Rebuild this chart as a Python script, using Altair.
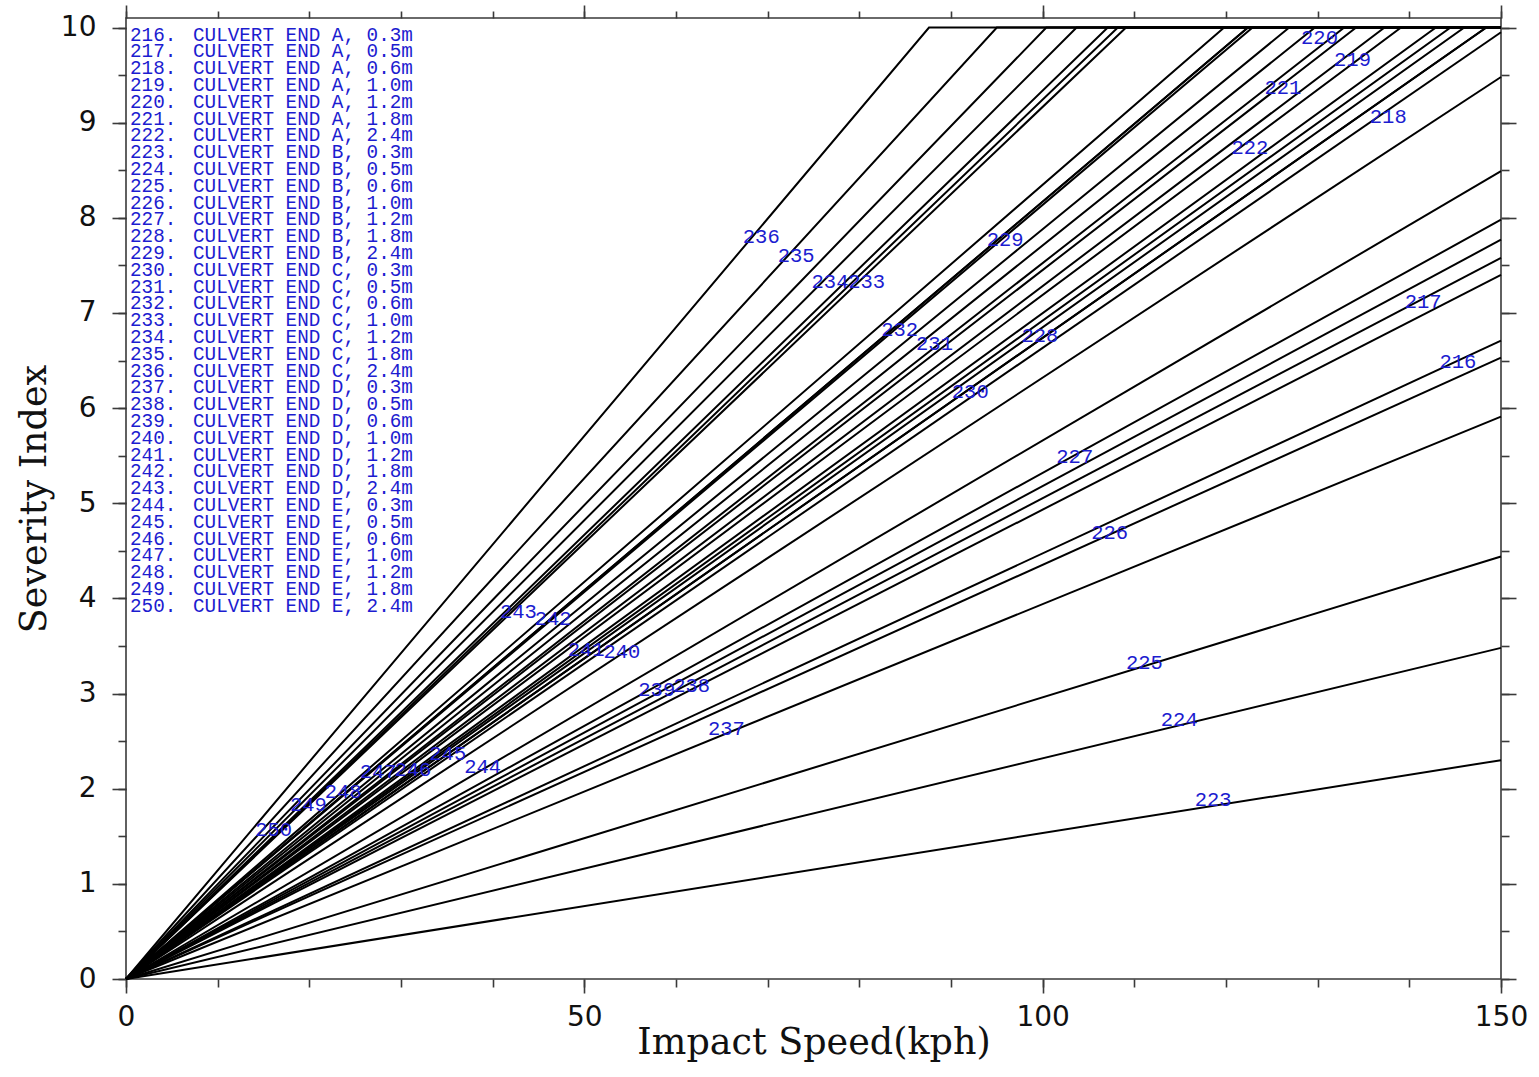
import altair as alt
import pandas as pd

# ---------------- data ----------------
SERIES_IDS = [216, 217, 218, 219, 220, 221, 222,
              223, 224, 225, 226, 227, 228, 229,
              230, 231, 232, 233, 234, 235, 236,
              237, 238, 239, 240, 241, 242, 243,
              244, 245, 246, 247, 248, 249, 250]
GROUPS = ["A", "B", "C", "D", "E"]
HEIGHTS = ["0.3m", "0.5m", "0.6m", "1.0m", "1.2m", "1.8m", "2.4m"]
SERIES_NAMES = [f"CULVERT END {g}, {h}" for g in GROUPS for h in HEIGHTS]

# point where each straight line ends (either at 150 kph or where it reaches the cap of 10)
END_SPEED = [150, 150, 150, 137.3, 129.7, 134.2, 139.1,
             150, 150, 150, 150, 150, 146.0, 122.4,
             148.4, 132.9, 122.9, 109.1, 103.7, 95.0, 87.6,
             150, 150, 150, 150, 144.5, 122.4, 108.2,
             150, 148.4, 142.9, 126.9, 119.8, 107.1, 100.4]
END_SEVERITY = [6.71, 7.58, 9.95, 10, 10, 10, 10,
                2.30, 3.48, 4.44, 6.53, 7.98, 10, 10,
                10, 10, 10, 10, 10, 10, 10,
                5.91, 7.40, 7.77, 9.48, 10, 10, 10,
                8.49, 10, 10, 10, 10, 10, 10]

# where each series number is written
LABEL_SPEED = [145.3, 141.5, 137.7, 133.8, 130.2, 126.2, 122.6,
               118.6, 114.9, 111.1, 107.3, 103.5, 99.7, 95.9,
               92.1, 88.2, 84.4, 80.8, 76.8, 73.1, 69.3,
               65.5, 61.7, 57.9, 54.1, 50.2, 46.6, 42.8,
               38.9, 35.1, 31.3, 27.5, 23.7, 19.9, 16.1]
LABEL_SEVERITY = [6.48, 7.12, 9.06, 9.66, 9.89, 9.36, 8.73,
                  1.88, 2.72, 3.32, 4.69, 5.49, 6.76, 7.77,
                  6.17, 6.67, 6.82, 7.33, 7.33, 7.60, 7.80,
                  2.63, 3.08, 3.04, 3.44, 3.46, 3.78, 3.86,
                  2.23, 2.36, 2.20, 2.18, 1.97, 1.83, 1.57]

SPEED_MAX = 150.0
SEVERITY_CAP = 10.0

X_MAJOR = [0, 50, 100, 150]
X_MINOR = [0, 10, 20, 30, 40, 50, 60, 70, 80, 90, 100, 110, 120, 130, 140, 150]
Y_MAJOR = [0, 1, 2, 3, 4, 5, 6, 7, 8, 9, 10]
Y_MINOR = [0, 0.5, 1, 1.5, 2, 2.5, 3, 3.5, 4, 4.5, 5, 5.5, 6, 6.5, 7, 7.5,
           8, 8.5, 9, 9.5, 10]

# ---------------- tables ----------------
rows = []
for sid, xs, ys in zip(SERIES_IDS, END_SPEED, END_SEVERITY):
    rows.append({"series": sid, "pt": 0, "speed": 0.0, "severity": 0.0})
    rows.append({"series": sid, "pt": 1, "speed": xs, "severity": ys})
    if xs < SPEED_MAX:
        rows.append({"series": sid, "pt": 2, "speed": SPEED_MAX, "severity": SEVERITY_CAP})
lines_df = pd.DataFrame(rows)

labels_df = pd.DataFrame({
    "label": [str(s) for s in SERIES_IDS],
    "speed": LABEL_SPEED,
    "severity": LABEL_SEVERITY,
})

legend_ids = [f"{s}." for s in SERIES_IDS]

# ---------------- styling ----------------
BLUE = "#1c1cd0"
AXC = "#3a3a3a"
X_SCALE = alt.Scale(domain=[0, 150], nice=False, zero=False)
Y_SCALE = alt.Scale(domain=[0, 10.1], nice=False, zero=False)

common_tick = dict(grid=False, domain=False, tickColor=AXC, tickWidth=1.6)

x_bottom_major = alt.Axis(orient="bottom", values=X_MAJOR, tickSize=14,
                          labelFont="DejaVu Sans", labelFontSize=28, labelColor="#111",
                          labelPadding=10, labelFlush=False, labelOverlap=False,
                          format="d",
                          title="Impact Speed(kph)", titleFont="DejaVu Serif",
                          titleFontSize=36.5, titleFontWeight="normal", titleColor="#111",
                          titleBaseline="alphabetic", titleY=74, **common_tick)
x_bottom_minor = alt.Axis(orient="bottom", values=X_MINOR, tickSize=8, labels=False,
                          title=None, **common_tick)
x_top_major = alt.Axis(orient="top", values=X_MAJOR, tickSize=13, labels=False,
                       title=None, **common_tick)
x_top_minor = alt.Axis(orient="top", values=X_MINOR, tickSize=7, labels=False,
                       title=None, **common_tick)

y_left_major = alt.Axis(orient="left", values=Y_MAJOR, tickSize=14,
                        labelFont="DejaVu Sans", labelFontSize=28, labelColor="#111",
                        labelPadding=16, labelFlush=False, labelOverlap=False,
                        format="d",
                        title="Severity Index", titleFont="DejaVu Serif",
                        titleFontSize=36.5, titleFontWeight="normal", titleColor="#111",
                        titleBaseline="alphabetic", titleX=-81, **common_tick)
y_left_minor = alt.Axis(orient="left", values=Y_MINOR, tickSize=8, labels=False,
                        title=None, **common_tick)
y_right_major = alt.Axis(orient="right", values=Y_MAJOR, tickSize=15, labels=False,
                         title=None, **common_tick)
y_right_minor = alt.Axis(orient="right", values=Y_MINOR, tickSize=8, labels=False,
                         title=None, **common_tick)


def axis_layer(xa, ya):
    return alt.Chart(lines_df).mark_line(opacity=0).encode(
        x=alt.X("speed:Q", scale=X_SCALE, axis=xa),
        y=alt.Y("severity:Q", scale=Y_SCALE, axis=ya),
        detail="series:N",
    )


axes_layers = [
    axis_layer(x_bottom_major, y_left_major),
    axis_layer(x_bottom_minor, y_left_minor),
    axis_layer(x_top_major, y_right_major),
    axis_layer(x_top_minor, y_right_minor),
]

lines = alt.Chart(lines_df).mark_line(color="black", strokeWidth=2).encode(
    x=alt.X("speed:Q", scale=X_SCALE, axis=None),
    y=alt.Y("severity:Q", scale=Y_SCALE, axis=None),
    detail="series:N",
    order="pt:Q",
)

labels = alt.Chart(labels_df).mark_text(
    font="Liberation Mono", fontSize=20.5, color=BLUE, align="center", baseline="middle"
).encode(
    x=alt.X("speed:Q", scale=X_SCALE, axis=None),
    y=alt.Y("severity:Q", scale=Y_SCALE, axis=None),
    text="label:N",
)

dummy = pd.DataFrame({"k": [0]})
legend_nums = alt.Chart(dummy).mark_text(
    text=legend_ids, font="Liberation Mono", fontSize=19.3, lineHeight=16.8,
    color=BLUE, align="left", baseline="alphabetic"
).encode(x=alt.value(4), y=alt.value(22.7))

legend_names = alt.Chart(dummy).mark_text(
    text=SERIES_NAMES, font="Liberation Mono", fontSize=19.3, lineHeight=16.8,
    color=BLUE, align="left", baseline="alphabetic"
).encode(x=alt.value(67), y=alt.value(22.7))

chart = alt.layer(
    *axes_layers, lines, labels, legend_nums, legend_names
).resolve_axis(
    x="independent", y="independent"
).properties(
    width=1375, height=961,
    padding={"left": 126, "top": 18, "right": 38, "bottom": 98},
    autosize=alt.AutoSizeParams(type="none"),
    background="white",
).configure_view(
    stroke=AXC, strokeWidth=1.6
)

chart.save("out.html", embed_options={"renderer": "svg", "actions": False})
